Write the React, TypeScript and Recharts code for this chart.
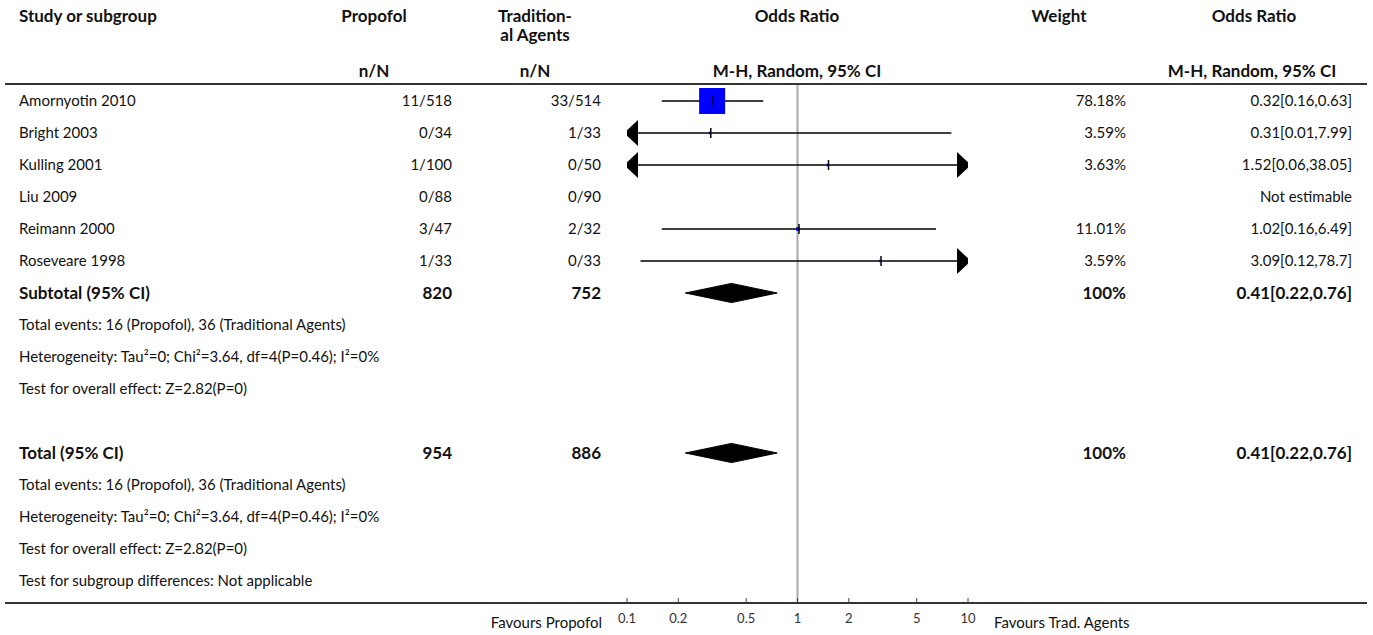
import React from 'react';
import { ComposedChart, Scatter, XAxis, YAxis, ReferenceLine } from 'recharts';

// study rows
const studies = ['Amornyotin 2010', 'Bright 2003', 'Kulling 2001', 'Liu 2009', 'Reimann 2000', 'Roseveare 1998'];
const propofolN = ['11/518', '0/34', '1/100', '0/88', '3/47', '1/33'];
const tradN = ['33/514', '1/33', '0/50', '0/90', '2/32', '0/33'];
const weights: (number | null)[] = [78.18, 3.59, 3.63, null, 11.01, 3.59];
const oddsRatio: (number | null)[] = [0.32, 0.31, 1.52, null, 1.02, 3.09];
const ciLow: (number | null)[] = [0.16, 0.01, 0.06, null, 0.16, 0.12];
const ciHigh: (number | null)[] = [0.63, 7.99, 38.05, null, 6.49, 78.7];

// pooled results (subtotal and total are identical here)
const pooled = { or: 0.41, lo: 0.22, hi: 0.76 };
const subtotalN = ['820', '752'];
const totalN = ['954', '886'];
const eventsText = 'Total events: 16 (Propofol), 36 (Traditional Agents)';
const heteroText = 'Heterogeneity: Tau\u00b2=0; Chi\u00b2=3.64, df=4(P=0.46); I\u00b2=0%';
const overallText = 'Test for overall effect: Z=2.82(P=0)';
const subgroupText = 'Test for subgroup differences: Not applicable';

const axisTicks = [0.1, 0.2, 0.5, 1, 2, 5, 10];

const FONT = 'Lato, "Noto Sans", sans-serif';
const TEXT = '#111';
const FS = 15; // regular text
const FS_BOLD = 17; // bold text runs wider in the original
const X_MIN = 0.1;
const X_MAX = 10;

type Row = { label: string; bold?: boolean; prop?: string; trad?: string; weight?: string; effect?: string };

const fmtCi = (o: number, l: number, h: number) => `${o}[${l},${h}]`;

const rows: Row[] = [
  ...studies.map((s, i) => ({
    label: s,
    prop: propofolN[i],
    trad: tradN[i],
    weight: weights[i] == null ? '' : `${weights[i]}%`,
    effect: oddsRatio[i] == null ? 'Not estimable' : fmtCi(oddsRatio[i]!, ciLow[i]!, ciHigh[i]!),
  })),
  { label: 'Subtotal (95% CI)', bold: true, prop: subtotalN[0], trad: subtotalN[1], weight: '100%', effect: fmtCi(pooled.or, pooled.lo, pooled.hi) },
  { label: eventsText },
  { label: heteroText },
  { label: overallText },
  { label: '' },
  { label: 'Total (95% CI)', bold: true, prop: totalN[0], trad: totalN[1], weight: '100%', effect: fmtCi(pooled.or, pooled.lo, pooled.hi) },
  { label: eventsText },
  { label: heteroText },
  { label: overallText },
  { label: subgroupText },
];
const rowIdx = rows.map((_, i) => i);
const SUBTOTAL_ROW = 6;
const TOTAL_ROW = 11;

const clampX = (v: number) => Math.min(X_MAX, Math.max(X_MIN, v));

// CI whiskers, with arrows where the interval runs off the axis
const ciSeries = studies
  .map((_, i) => {
    if (oddsRatio[i] == null) return null;
    const lo = ciLow[i]!;
    const hi = ciHigh[i]!;
    return [
      { x: clampX(lo), y: i, arrow: lo < X_MIN ? 'left' : null },
      { x: clampX(hi), y: i, arrow: hi > X_MAX ? 'right' : null },
    ];
  })
  .filter(Boolean) as { x: number; y: number; arrow: string | null }[][];

const estimates = studies
  .map((_, i) => (oddsRatio[i] == null ? null : { x: oddsRatio[i]!, y: i, w: weights[i]! }))
  .filter(Boolean) as { x: number; y: number; w: number }[];

const DIAMOND_H = 0.3;
const diamond = (row: number) => [
  { x: pooled.lo, y: row },
  { x: pooled.or, y: row - DIAMOND_H },
  { x: pooled.hi, y: row },
  { x: pooled.or, y: row + DIAMOND_H },
  { x: pooled.lo, y: row },
];

const LeftTick = ({ y, payload }: any) => {
  const r = rows[payload.value];
  if (!r) return <g />;
  return (
    <g fontFamily={FONT} fontSize={r.bold ? FS_BOLD : FS} fill={TEXT} fontWeight={r.bold ? 700 : 400}>
      <text x={19} y={y} dy="0.35em">{r.label}</text>
      {r.prop && <text x={452} y={y} dy="0.35em" textAnchor="end">{r.prop}</text>}
      {r.trad && <text x={601} y={y} dy="0.35em" textAnchor="end">{r.trad}</text>}
    </g>
  );
};

const RightTick = ({ y, payload }: any) => {
  const r = rows[payload.value];
  if (!r) return <g />;
  return (
    <g fontFamily={FONT} fontSize={r.bold ? FS_BOLD : FS} fill={TEXT} fontWeight={r.bold ? 700 : 400}>
      {r.weight && <text x={1126} y={y} dy="0.35em" textAnchor="end">{r.weight}</text>}
      {r.effect && <text x={1352} y={y} dy="0.35em" textAnchor="end">{r.effect}</text>}
    </g>
  );
};

const AxisTick = ({ x, y, payload }: any) => (
  <g>
    <line x1={x} x2={x} y1={y - 5} y2={y} stroke="#444" strokeWidth={1} />
    <text x={x} y={y + 15} dy="0.35em" textAnchor="middle" fontFamily={FONT} fontSize={13} fill="#333">
      {payload.value}
    </text>
  </g>
);

const CiEnd = ({ cx, cy, payload }: any) => {
  if (!payload.arrow) return <g />;
  const d = payload.arrow === 'left' ? -1 : 1;
  const tip = cx + d * 3;
  const base = cx - d * 11;
  return <polygon points={`${tip},${cy} ${base},${cy - 13} ${base},${cy + 13}`} fill="#000" />;
};

const maxW = Math.max(...estimates.map((e) => e.w));
const Estimate = ({ cx, cy, payload }: any) => {
  const side = Math.max(2.5, (payload.w / maxW) * 26);
  return (
    <g>
      <rect x={cx - side / 2 - 1} y={cy - side / 2} width={side} height={side} fill="#0000ff" />
      <line x1={cx} x2={cx} y1={cy - 5} y2={cy + 5} stroke="#000" strokeWidth={1.5} />
    </g>
  );
};

const Blank = () => <g />;

const Label = ({ x, y, text, align = 'center', bold = false }: any) => {
  const pos: React.CSSProperties =
    align === 'center'
      ? { left: x - 150, width: 300, textAlign: 'center' }
      : align === 'right'
      ? { left: x - 300, width: 300, textAlign: 'right' }
      : { left: x };
  return (
    <div
      style={{
        position: 'absolute',
        top: y - 10,
        lineHeight: '20px',
        fontSize: bold ? FS_BOLD : FS,
        fontWeight: bold ? 700 : 400,
        color: TEXT,
        whiteSpace: 'nowrap',
        ...pos,
      }}
    >
      {text}
    </div>
  );
};

export default function App() {
  return (
    <div style={{ position: 'absolute', left: 0, top: 0, width: 1373, height: 635, fontFamily: FONT, background: '#fff' }}>
      <Label x={19} y={16} text="Study or subgroup" align="left" bold />
      <Label x={374} y={16} text="Propofol" bold />
      <Label x={374} y={71} text="n/N" bold />
      <Label x={535} y={16} text="Tradition-" bold />
      <Label x={535} y={35} text="al Agents" bold />
      <Label x={535} y={71} text="n/N" bold />
      <Label x={797} y={16} text="Odds Ratio" bold />
      <Label x={797} y={71} text="M-H, Random, 95% CI" bold />
      <Label x={1059} y={16} text="Weight" bold />
      <Label x={1254} y={16} text="Odds Ratio" bold />
      <Label x={1252} y={71} text="M-H, Random, 95% CI" bold />
      <Label x={602} y={622} text="Favours Propofol" align="right" />
      <Label x={994} y={622} text="Favours Trad. Agents" align="left" />

      <div style={{ position: 'absolute', left: 5, top: 83, width: 1362, height: 2, background: '#333' }} />
      <div style={{ position: 'absolute', left: 5, top: 602, width: 1362, height: 2, background: '#333' }} />

      <div style={{ position: 'absolute', left: 0, top: 0 }}>
        <ComposedChart width={1373} height={635} margin={{ top: 85, right: 0, bottom: 0, left: 0 }}>
          <XAxis
            type="number"
            dataKey="x"
            scale="log"
            domain={[X_MIN, X_MAX]}
            ticks={axisTicks}
            allowDataOverflow
            height={32}
            tickSize={0}
            tickMargin={0}
            tickLine={false}
            axisLine={{ stroke: '#333', strokeWidth: 2 }}
            tick={(p: any) => <AxisTick {...p} />}
            interval={0}
          />
          <YAxis
            yAxisId="rows"
            type="number"
            dataKey="y"
            orientation="left"
            width={627}
            reversed
            domain={[-0.5, 15.6875]}
            allowDataOverflow
            ticks={rowIdx}
            interval={0}
            axisLine={false}
            tickLine={false}
            tick={(p: any) => <LeftTick {...p} />}
          />
          <YAxis
            yAxisId="rowsRight"
            type="number"
            dataKey="y"
            orientation="right"
            width={405}
            reversed
            domain={[-0.5, 15.6875]}
            allowDataOverflow
            ticks={rowIdx}
            interval={0}
            axisLine={false}
            tickLine={false}
            tick={(p: any) => <RightTick {...p} />}
          />
          <ReferenceLine yAxisId="rows" x={1} stroke="#aaa" strokeWidth={2} />
          {ciSeries.map((d, i) => (
            <Scatter
              key={`ci-${i}`}
              yAxisId="rows"
              data={d}
              line={{ stroke: '#000', strokeWidth: 1.5 }}
              shape={(p: any) => <CiEnd {...p} />}
              isAnimationActive={false}
              legendType="none"
            />
          ))}
          <Scatter
            yAxisId="rows"
            data={estimates}
            shape={(p: any) => <Estimate {...p} />}
            isAnimationActive={false}
            legendType="none"
          />
          {[SUBTOTAL_ROW, TOTAL_ROW].map((r) => (
            <Scatter
              key={`dia-${r}`}
              yAxisId="rows"
              data={diamond(r)}
              line={{ stroke: '#000', strokeWidth: 1, fill: '#000' }}
              shape={Blank}
              isAnimationActive={false}
              legendType="none"
            />
          ))}
        </ComposedChart>
      </div>
    </div>
  );
}
